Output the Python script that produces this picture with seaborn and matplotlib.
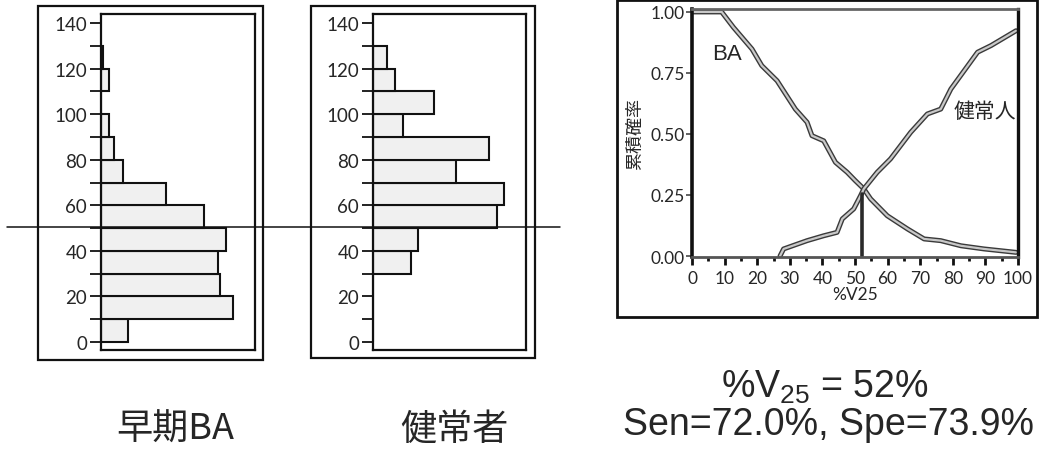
import matplotlib
matplotlib.use("Agg")
import matplotlib.pyplot as plt
import matplotlib.patheffects as pe
from matplotlib.patches import Rectangle
from matplotlib.lines import Line2D
from matplotlib.transforms import blended_transform_factory
import seaborn as sns
import numpy as np
import pandas as pd

# histogram data (bins of 10 on %V25, counts)
bin_mids = [5, 15, 25, 35, 45, 55, 65, 75, 85, 95, 105, 115, 125]
ba_counts = [6.1, 30.0, 27.0, 26.6, 28.4, 23.4, 14.8, 5.0, 3.0, 1.8, 0.0, 1.8, 0.4]
normal_counts = [0.0, 0.0, 0.0, 8.6, 10.2, 28.4, 30.0, 18.9, 26.6, 6.8, 13.9, 5.0, 3.2]

# cumulative curves
ba_x = [0, 9.1, 12.7, 18.4, 21.4, 26.1, 31.7, 35.3, 36.8, 40.4, 44.0, 47.6,
        50.0, 52.7, 54.8, 59.9, 66.1, 71.2, 76.3, 82.5, 89.6, 99.4]
ba_y = [1.0, 1.0, 0.937, 0.848, 0.780, 0.718, 0.602, 0.548, 0.493, 0.472, 0.384,
        0.343, 0.31, 0.275, 0.234, 0.165, 0.111, 0.070, 0.063, 0.042, 0.029, 0.015]
nor_x = [27.0, 28.1, 35.3, 40.4, 44.5, 46.1, 49.6, 51.7, 52.7, 56.8, 60.9, 67.1,
         72.2, 76.3, 79.4, 87.6, 91.7, 99.4]
nor_y = [0.0, 0.029, 0.063, 0.083, 0.097, 0.152, 0.193, 0.247, 0.275, 0.343,
         0.398, 0.507, 0.582, 0.602, 0.684, 0.835, 0.862, 0.923]
cutoff = 52
cutoff_y = 0.255

sns.set_style("white")
plt.rcParams["font.family"] = ["Lato", "Noto Sans CJK JP", "DejaVu Sans"]
plt.rcParams["mathtext.fontset"] = "custom"
plt.rcParams["mathtext.rm"] = "Liberation Sans"

fig = plt.figure(figsize=(10.39, 4.56), dpi=100)
W, H = 1039, 456


def px_axes(x0, y0, x1, y1):
    return fig.add_axes([x0 / W, 1 - y1 / H, (x1 - x0) / W, (y1 - y0) / H])


def frame(x0, y0, x1, y1, lw=1.6):
    fig.add_artist(Rectangle((x0 / W, 1 - y1 / H), (x1 - x0) / W, (y1 - y0) / H,
                             transform=fig.transFigure, fill=False,
                             edgecolor="#111111", lw=lw))


ax1 = px_axes(101, 15, 255, 351)
ax2 = px_axes(373, 15, 526, 351)

for ax, counts in [(ax1, ba_counts), (ax2, normal_counts)]:
    df = pd.DataFrame({"mid": bin_mids, "n": counts})
    sns.histplot(data=df, y="mid", weights="n", binwidth=10, binrange=(0, 130),
                 ax=ax, color="#f0f0f0", edgecolor="#111111", linewidth=1.5,
                 alpha=1)
    ax.set_xlim(0, 35)
    ax.set_ylim(-3.5, 144)
    ax.set_xticks([])
    ax.set_yticks(np.arange(0, 141, 20))
    ax.set_yticks(np.arange(10, 140, 20), minor=True)
    ax.tick_params(axis="y", which="both", direction="out", length=8, width=1.3,
                   left=True, labelsize=13.5, pad=2, color="#111111")
    ax.set_xlabel("")
    ax.set_ylabel("")
    for s in ax.spines.values():
        s.set_color("#111111")
        s.set_linewidth(1.6)

frame(38, 7, 263, 361)
frame(311, 7, 535, 359)

# cut-off line across both histograms
tr = blended_transform_factory(fig.transFigure, ax1.transData)
fig.add_artist(Line2D([7 / W, 560 / W], [50.4, 50.4], transform=tr,
                      color="#111111", lw=1.1))

# cumulative probability plot
ax3 = px_axes(692, 10, 1018, 258)
outline = [pe.Stroke(linewidth=3.6, foreground="#3a3a3a"),
           pe.Normal()]
sns.lineplot(x=ba_x, y=ba_y, ax=ax3, color="#c8c8c8", lw=1.6,
             path_effects=outline, sort=False)
sns.lineplot(x=nor_x, y=nor_y, ax=ax3, color="#c8c8c8", lw=1.6,
             path_effects=outline, sort=False)
ax3.plot([cutoff, cutoff], [0, cutoff_y], color="#2a2a2a", lw=2.6)
ax3.set_xlim(0, 100)
ax3.set_ylim(-0.004, 1.012)
ax3.set_xticks(np.arange(0, 101, 10))
ax3.set_xticks(np.arange(5, 100, 10), minor=True)
ax3.set_yticks([0, 0.25, 0.5, 0.75, 1.0])
ax3.set_yticklabels(["0.00", "0.25", "0.50", "0.75", "1.00"])
ax3.tick_params(axis="x", which="major", direction="out", length=6, width=2,
                bottom=True, labelsize=12.5, pad=3, color="#111111")
ax3.tick_params(axis="x", which="minor", direction="out", length=3, width=2,
                bottom=True, color="#111111")
ax3.tick_params(axis="y", direction="out", length=4, width=1.3, left=True,
                labelsize=12.5, pad=1, color="#555555")
ax3.set_xlabel("%V25", fontsize=12.5, labelpad=0)
ax3.set_ylabel("累積確率", fontsize=13, labelpad=5, family=["Noto Sans CJK JP"])
ax3.spines["left"].set_linewidth(2.6)
ax3.spines["left"].set_color("#111111")
ax3.spines["right"].set_linewidth(2.4)
ax3.spines["right"].set_color("#111111")
ax3.spines["top"].set_linewidth(2)
ax3.spines["top"].set_color("#666666")
ax3.spines["bottom"].set_linewidth(2)
ax3.spines["bottom"].set_color("#555555")
ax3.text(10.7, 0.83, "BA", fontsize=16, ha="center", va="center",
         family=["Liberation Sans"])
ax3.text(89.9, 0.594, "健常人", fontsize=15, ha="center", va="center",
         family=["Noto Sans CJK JP"])

frame(617, 1, 1037, 318, lw=2)

# captions
fig.text(175 / W, 1 - 430 / H, "早期BA", fontsize=26, ha="center", va="center",
         family=["Noto Sans CJK JP"])
fig.text(454 / W, 1 - 430 / H, "健常者", fontsize=26, ha="center", va="center",
         family=["Noto Sans CJK JP"])

fig.text(825 / W, 1 - 398 / H, r"%V$_{\mathrm{25}}$ = 52%", fontsize=27,
         ha="center", va="baseline", family=["Liberation Sans"])
fig.text(623 / W, 1 - 435 / H, "Sen=72.0%, Spe=73.9%", fontsize=27,
         ha="left", va="baseline", family=["Liberation Sans"])

fig.savefig("out.png", dpi=100)
